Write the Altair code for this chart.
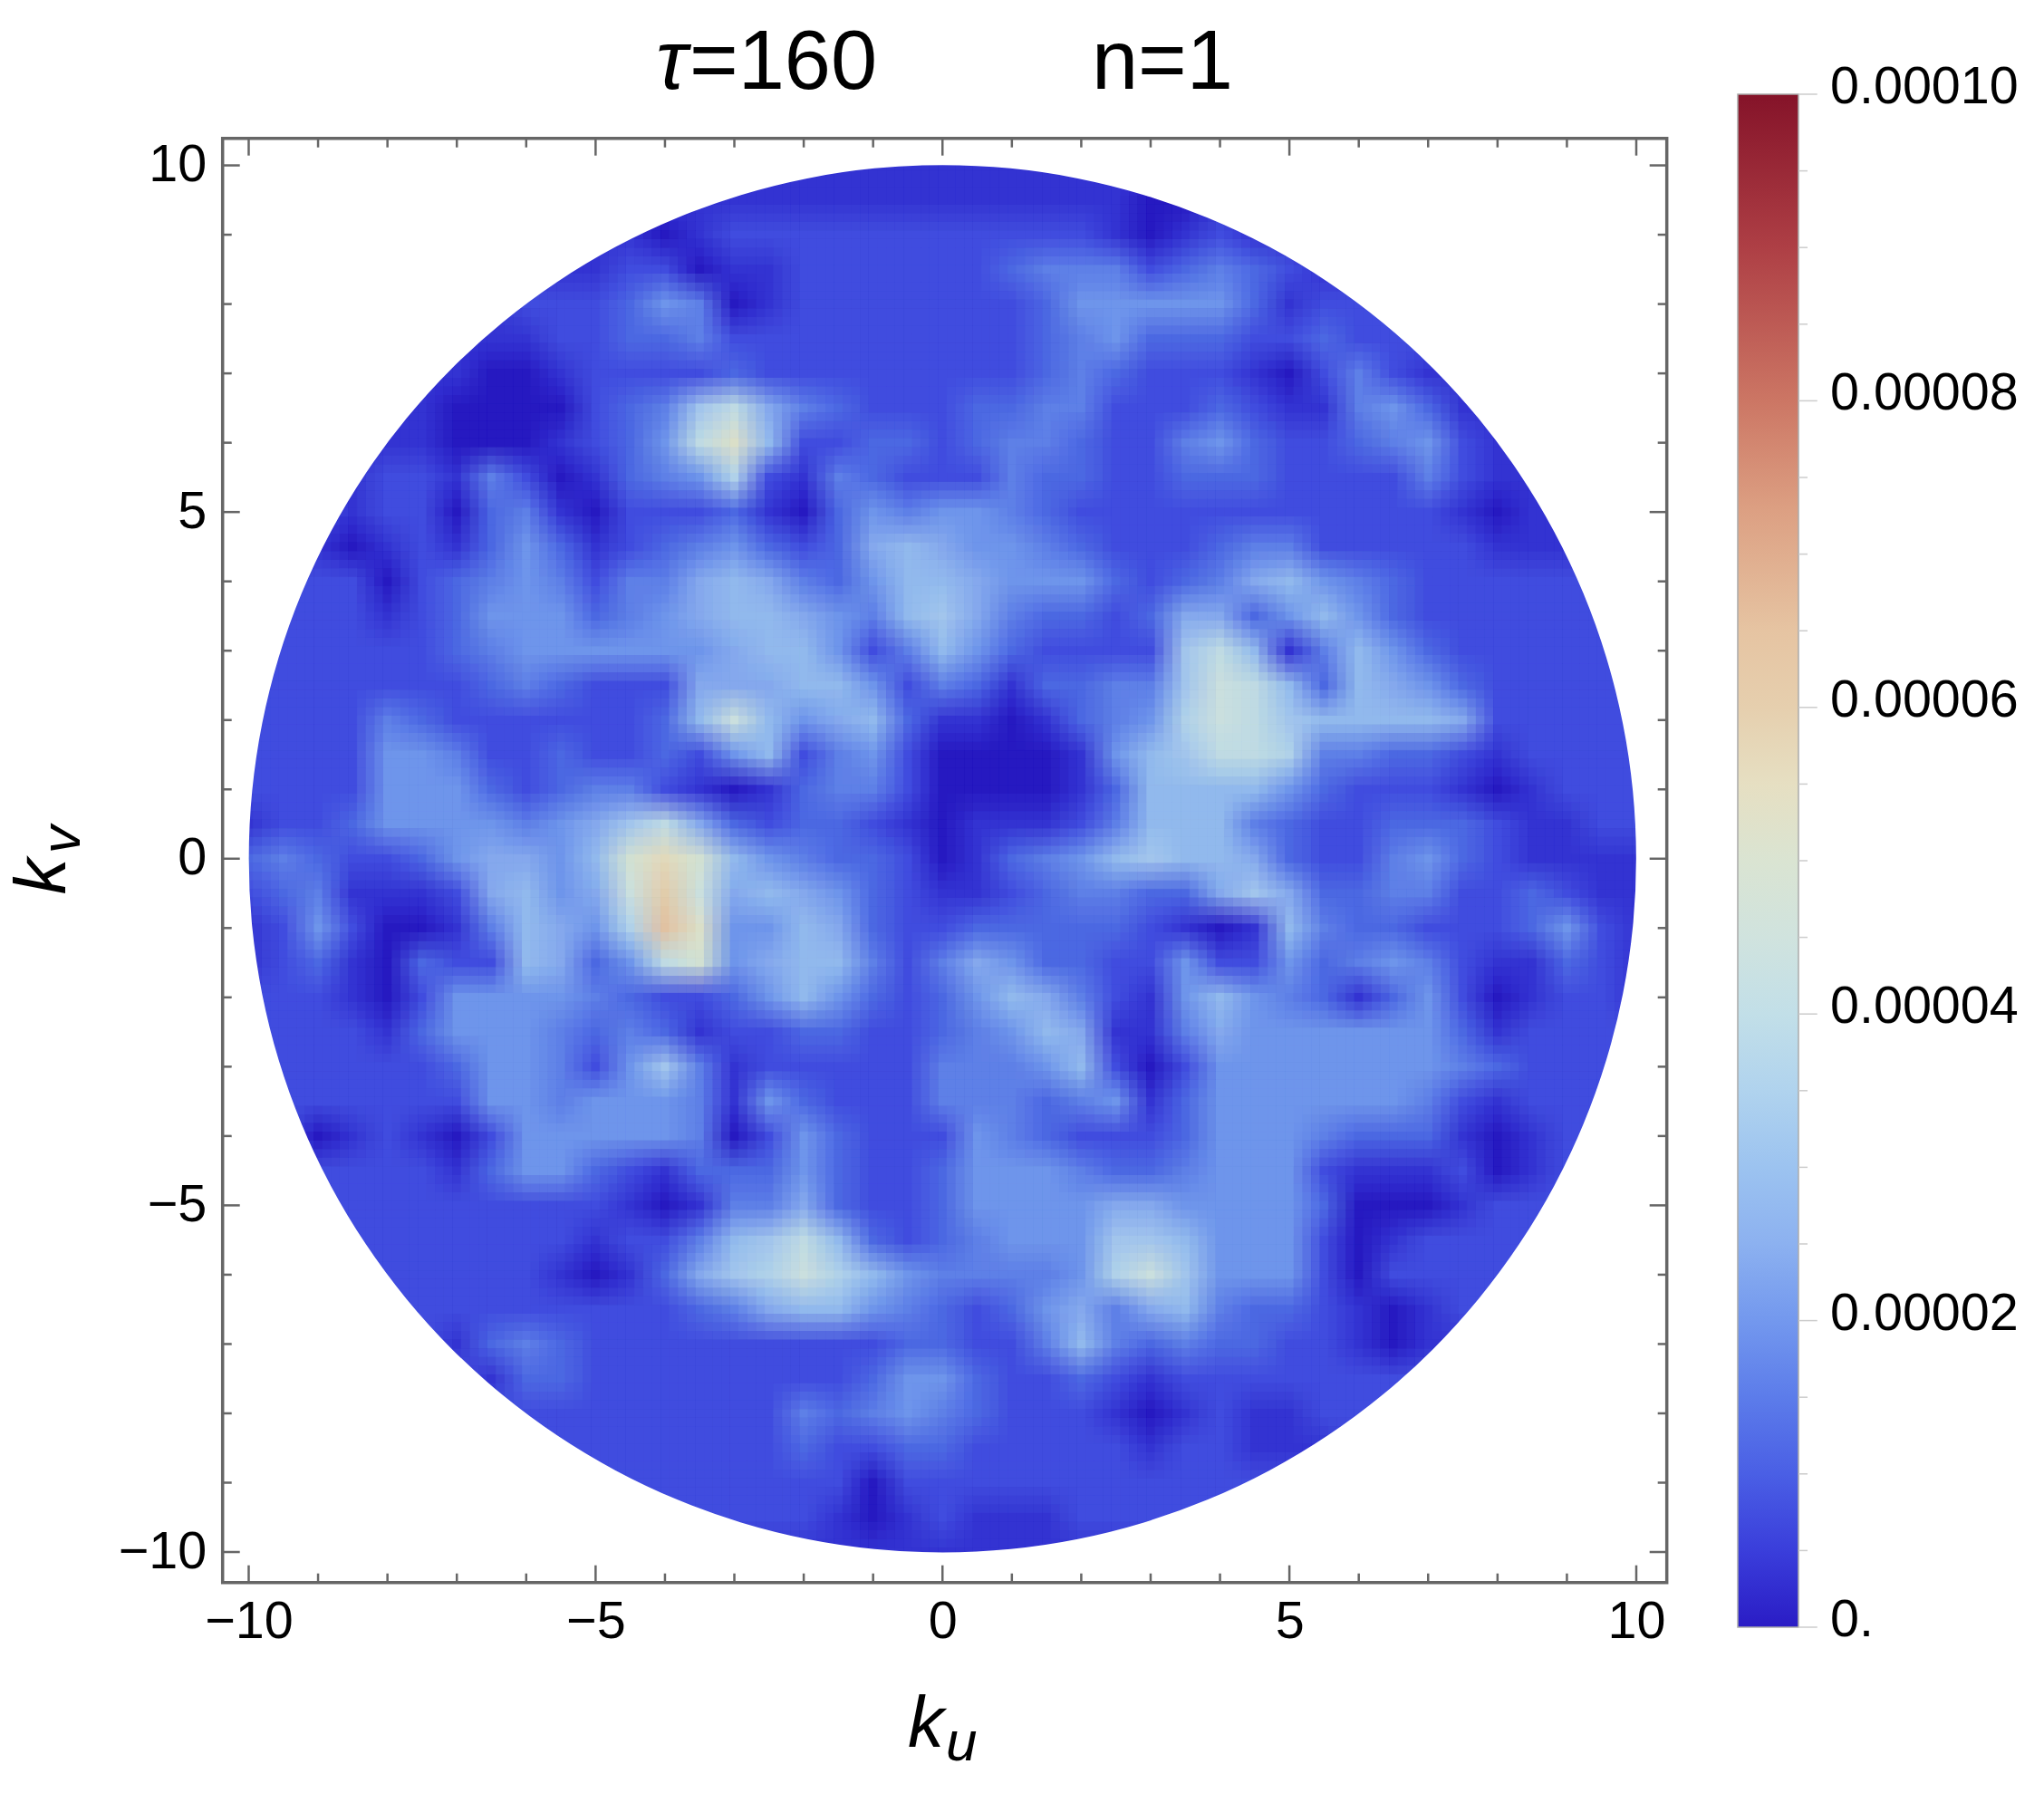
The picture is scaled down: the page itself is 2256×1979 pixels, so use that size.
import altair as alt
import pandas as pd

FONT = "Liberation Sans"
W, H = 1594, 1594
X_DOMAIN = [-10.376, 10.44]
Y_DOMAIN = [-10.44, 10.39]

# Colour key (value, colour)
KEY_VALUES = [0, 0.5e-5, 1e-5, 1.5e-5, 2e-5, 2.5e-5, 3e-5, 3.5e-5, 4e-5, 4.5e-5, 5e-5, 5.5e-5,
              6e-5, 6.5e-5, 7.3e-5, 8e-5, 9e-5, 1e-4]
KEY_COLORS = ["#2a1cc5", "#3a3edb", "#4a5fe5", "#5c7cea", "#7398ee", "#8cb1f0", "#9cc3f0", "#b0d3ee",
              "#c2dfe8", "#d0e3de", "#dae4d2", "#e6dfc2", "#e6cfae", "#e6c4a2", "#dc9f82", "#cc7664",
              "#ae3f45", "#851329"]

# Values, rows kv = 10 ... -10 in half steps, columns ku = -10 ... 10 in half steps.
# Each character is a level (0-9, a-h), one level = 0.4e-5.
ROWS = [
 "1111 1111 1111 1111 1111 1111 1111 1111 1111 1111 1",
 "1111 1111 1111 1111 1111 1111 1100 1111 1111 1111 1",
 "1111 1111 1111 0122 2222 2222 2101 2111 1111 1111 1",
 "1111 1111 1112 2011 2222 2234 4423 4321 1111 1111 1",
 "1111 1111 2223 5401 2222 2223 5555 5312 2222 1111 1",
 "1111 1111 1223 3422 2222 2223 4533 3223 2222 1111 1",
 "1111 1110 0122 2232 2222 2223 4322 2102 4211 1111 1",
 "1111 1100 0023 48a6 4322 2334 4222 3211 4531 1111 1",
 "1111 1100 0123 5ad7 2233 2344 3224 5322 3452 1111 1",
 "1111 2214 2013 4592 1432 2243 3223 3322 2242 1111 1",
 "2221 2203 4102 2231 0354 5543 2222 2222 2221 0111 1",
 "1110 1213 5312 3453 2367 6554 3222 3442 2222 1111 1",
 "2222 0234 5424 4676 4357 7655 5323 4675 4322 2222 2",
 "2222 1235 5534 5677 6547 8643 3236 6357 5322 2222 2",
 "2222 2234 5555 5567 7524 7532 2228 a714 7532 2222 2",
 "2222 2223 4322 2666 7752 4313 3448 ba73 7653 2222 2",
 "2222 4322 2222 37b7 5673 1101 3459 ba87 7776 2222 2",
 "2222 5542 2322 3257 2452 0000 1578 aa94 4332 1222 2",
 "2222 5553 2344 2101 3442 0000 1377 7753 2221 0122 2",
 "1223 5555 4568 a632 3321 0111 2477 7432 2333 2112 2",
 "3432 2356 657c ec75 4332 0134 5787 7632 2453 2111 1",
 "2341 1126 756b fb67 6532 1123 4433 6863 3442 2321 1",
 "1252 0014 7659 gd55 7632 2333 3321 0174 3322 2352 1",
 "1231 0322 7635 ac56 7742 4653 3225 2253 4542 1132 1",
 "2221 0255 5543 2235 7532 3576 4215 7543 1352 0122 1",
 "2222 1355 5434 3122 3322 3457 6114 6555 5553 1222 2",
 "2222 2235 5425 8412 2222 4445 7202 5555 5554 3222 2",
 "2222 2225 5455 5415 3222 4443 4513 5555 5542 1222 2",
 "2201 2102 5555 5402 5322 2543 2223 5554 3331 0122 2",
 "2222 2213 5532 1333 5322 3555 4334 5552 1112 0122 2",
 "2222 2222 2221 0144 6322 3555 5665 5553 0001 2222 2",
 "2222 2222 2212 2478 a732 3455 5887 5552 0122 2222 2",
 "2222 2222 2101 3689 b975 4444 59b8 5552 0222 2222 2",
 "2222 2222 2222 2346 7754 3235 6467 4332 1012 2222 2",
 "2222 2213 4322 2222 2223 3224 7434 3322 1011 2222 2",
 "2222 2221 3322 2222 2235 5322 3212 2222 2222 2222 2",
 "2222 2222 2222 2222 4345 4322 2101 2112 2222 2222 2",
 "2222 2222 2222 2222 3223 3222 2212 2111 2222 2222 2",
 "2222 2222 2222 2222 2202 2222 2222 2222 2222 2222 2",
 "2222 2222 2222 2222 2101 2111 2222 2222 2222 2222 2",
 "1111 1111 1111 1111 1111 1111 1111 1111 1111 1111 1",
]
LEVEL_CHARS = "0123456789abcdefgh"
LEVEL_STEP = 0.4e-5

X_MAJOR = [-10, -5, 0, 5, 10]
X_MINOR = [-9, -8, -7, -6, -4, -3, -2, -1, 1, 2, 3, 4, 6, 7, 8, 9]
BAR_MAJOR = [0, 2e-5, 4e-5, 6e-5, 8e-5, 1e-4]
BAR_LABELS = ["0.", "0.00002", "0.00004", "0.00006", "0.00008", "0.00010"]
BAR_MINOR = [0.5e-5, 1e-5, 1.5e-5, 2.5e-5, 3e-5, 3.5e-5, 4.5e-5, 5e-5, 5.5e-5,
             6.5e-5, 7e-5, 7.5e-5, 8.5e-5, 9e-5, 9.5e-5]

cells = []
for r, row in enumerate(ROWS):
    row = row.replace(" ", "")
    assert len(row) == 41, (r, len(row))
    kv = 10 - r * 0.5
    for c, ch in enumerate(row):
        ku = -10 + c * 0.5
        if ku * ku + kv * kv > 10.7 ** 2:
            continue
        cells.append(dict(x=ku, y=kv, v=LEVEL_CHARS.index(ch) * LEVEL_STEP))
cells = pd.DataFrame(cells)

xs = alt.Scale(domain=X_DOMAIN, nice=False, zero=False)
ys = alt.Scale(domain=Y_DOMAIN, nice=False, zero=False)
cs = alt.Scale(domain=KEY_VALUES, range=KEY_COLORS, interpolate="rgb")

def heat_layer(dx, dy, opacity, first=False):
    kwx = {}
    kwy = {}
    if first:
        kwx["axis"] = alt.Axis(values=X_MAJOR, format="d", ticks=False, domain=False, grid=False,
                               labelFont=FONT, labelFontSize=57.5, labelColor="black",
                               labelPadding=16, title=None)
        kwy["axis"] = alt.Axis(values=X_MAJOR, format="d", ticks=False, domain=False, grid=False,
                               labelFont=FONT, labelFontSize=57.5, labelColor="black",
                               labelPadding=18, title=None)
    enc = dict(
        x=alt.X("x0:Q", scale=xs, **kwx),
        x2="x1:Q",
        y=alt.Y("y0:Q", scale=ys, **kwy),
        y2="y1:Q",
        color=alt.Color("v:Q", scale=cs, legend=None),
    )
    if first:
        enc["stroke"] = alt.Stroke("v:Q", scale=cs, legend=None)
    return alt.Chart(cells).transform_calculate(
        x0=f"datum.x - 0.25 + ({dx})", x1=f"datum.x + 0.25 + ({dx})",
        y0=f"datum.y - 0.25 + ({dy})", y1=f"datum.y + 0.25 + ({dy})",
    ).mark_rect(strokeWidth=1 if first else 0, opacity=opacity, clip=True).encode(**enc)

# The same cells, drawn several times a fraction of a cell apart and blended evenly
SHIFTS = [-0.1875, -0.0625, 0.0625, 0.1875]
layers = []
for dx in SHIFTS:
    for dy in SHIFTS:
        k = len(layers) + 1
        layers.append(heat_layer(dx, dy, round(1 / k, 4), first=(k == 1)))

mask = alt.Chart(pd.DataFrame({"x": [0], "y": [0]})).mark_arc(
    clip=True, color="white", theta=0, theta2=6.2832, radius=1300, radius2=765.6
).encode(x=alt.X("x:Q", scale=xs), y=alt.Y("y:Q", scale=ys))

TICK = "#666666"
TICK_W = 2.5
def xticks(vals, length):
    d = pd.DataFrame({"x": vals})
    bottom = alt.Chart(d).mark_rule(color=TICK, strokeWidth=TICK_W).encode(
        x=alt.X("x:Q", scale=xs), y=alt.value(H), y2=alt.value(H - length))
    top = alt.Chart(d).mark_rule(color=TICK, strokeWidth=TICK_W).encode(
        x=alt.X("x:Q", scale=xs), y=alt.value(0), y2=alt.value(length))
    return [bottom, top]
def yticks(vals, length):
    d = pd.DataFrame({"y": vals})
    left = alt.Chart(d).mark_rule(color=TICK, strokeWidth=TICK_W).encode(
        y=alt.Y("y:Q", scale=ys), x=alt.value(0), x2=alt.value(length))
    right = alt.Chart(d).mark_rule(color=TICK, strokeWidth=TICK_W).encode(
        y=alt.Y("y:Q", scale=ys), x=alt.value(W), x2=alt.value(W - length))
    return [left, right]

frame = alt.Chart(pd.DataFrame({"a": [0]})).mark_rect(
    fill=None, filled=False, stroke=TICK, strokeWidth=3.5
).encode(x=alt.value(0), x2=alt.value(W), y=alt.value(0), y2=alt.value(H))

def label(text, x, y, size, style="normal", angle=0):
    return alt.Chart(pd.DataFrame({"x": [x], "y": [y], "t": [text]})).mark_text(
        font=FONT, fontSize=size, fontStyle=style, align="left", baseline="alphabetic",
        color="black", angle=angle
    ).encode(x=alt.X("x:Q", scale=xs), y=alt.Y("y:Q", scale=ys), text="t:N")

def px(x): return (x - 1040.3) / 76.59
def py(y): return (947.6 - y) / 76.5

texts = [
    label("τ", px(724), py(98), 92, "italic"),
    label("=160", px(761), py(98), 92),
    label("n=1", px(1205), py(98), 92),
    label("k", px(1002), py(1928), 80, "italic"),
    label("u", px(1044), py(1943), 62, "italic"),
    label("k", px(72), py(987), 80, "italic", 270),
    label("v", px(88), py(942), 62, "italic", 270),
]

main = alt.layer(*layers, mask, *xticks(X_MINOR, 10), *xticks(X_MAJOR, 19),
                 *yticks(X_MINOR, 10), *yticks(X_MAJOR, 19), frame, *texts)

# Colour bar, on scales of its own
bar_x = alt.Scale(domain=[0, 1], range=[1918 - 245.7, 1985 - 245.7], nice=False, zero=False)
bar_y = alt.Scale(domain=[0, 1e-4], range=[1796 - 152.7, 104 - 152.7], nice=False, zero=False)
stops = [alt.GradientStop(offset=v / 1e-4, color=c) for v, c in zip(KEY_VALUES, KEY_COLORS)]
bar = alt.Chart(pd.DataFrame({"x": [0], "x2": [1], "y": [0], "y2": [1e-4]})).mark_rect(
    fill=alt.LinearGradient(gradient="linear", stops=stops, x1=0, x2=0, y1=1, y2=0),
    stroke="#aaaaaa", strokeWidth=1.5
).encode(
    x=alt.X("x:Q", scale=bar_x, axis=None), x2="x2:Q",
    y=alt.Y("y:Q", scale=bar_y, axis=None), y2="y2:Q",
)
def bar_ticks(vals, x2):
    d = pd.DataFrame({"y": vals, "x": [1.0] * len(vals), "x2": [x2] * len(vals)})
    return alt.Chart(d).mark_rule(color="#cccccc", strokeWidth=1.5).encode(
        x=alt.X("x:Q", scale=bar_x, axis=None), x2="x2:Q",
        y=alt.Y("y:Q", scale=bar_y, axis=None))
bar_text = alt.Chart(pd.DataFrame({"y": BAR_MAJOR, "t": BAR_LABELS, "x": [1.0] * 6})).mark_text(
    font=FONT, fontSize=57.5, align="left", baseline="middle", dx=35, dy=-7, color="black"
).encode(x=alt.X("x:Q", scale=bar_x, axis=None), y=alt.Y("y:Q", scale=bar_y, axis=None), text="t:N")

side = alt.layer(bar, bar_ticks(BAR_MINOR, 1.15), bar_ticks(BAR_MAJOR, 1.31), bar_text)

chart = alt.layer(main, side).resolve_scale(x="independent", y="independent").properties(
    width=W, height=H,
    padding={"left": 237.7, "top": 144.7, "right": 400, "bottom": 215},
    autosize=alt.AutoSizeParams(type="none"),
).configure_view(stroke=None)

chart.save("out.html", embed_options={"renderer": "svg", "actions": False})
